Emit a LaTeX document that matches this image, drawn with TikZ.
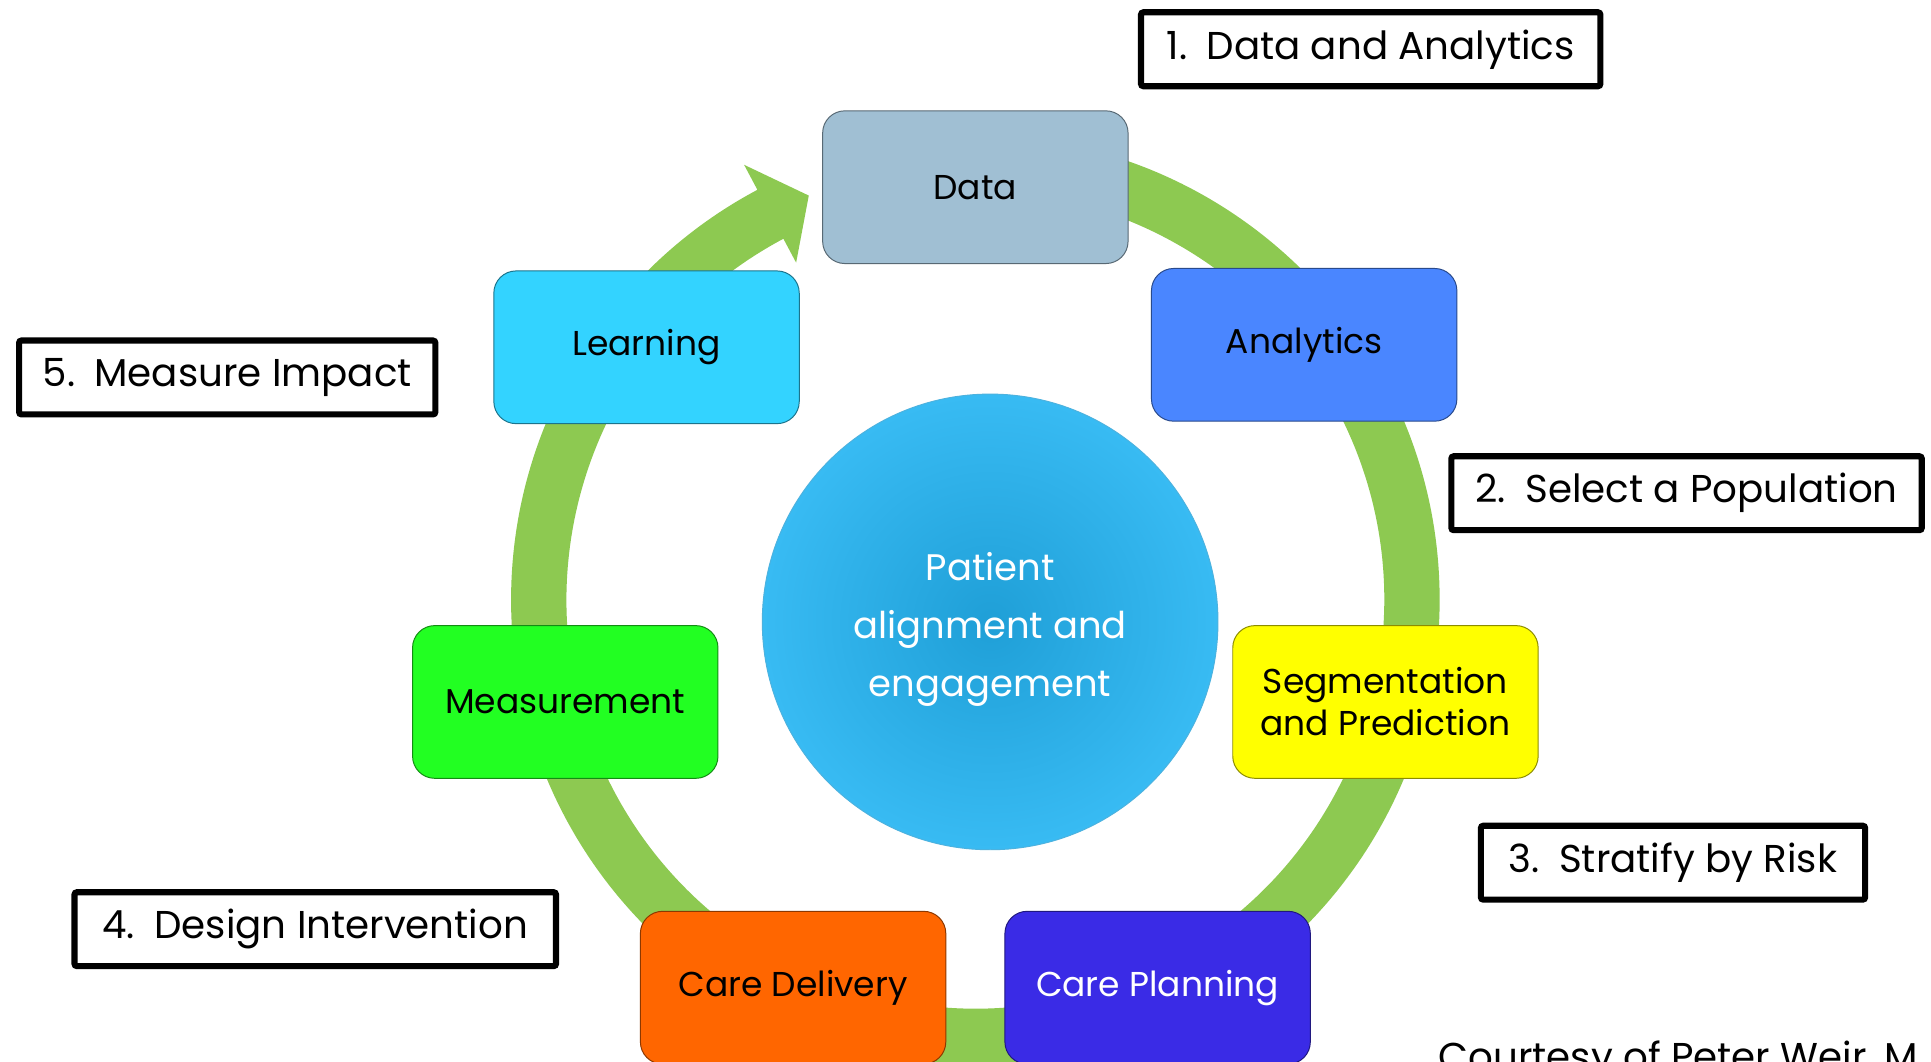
\documentclass[tikz,border=0pt]{standalone}
\usepackage{fontspec}
\setmainfont{Poppins}
\usepackage{tikz}
\usetikzlibrary{positioning, shapes, calc}
\definecolor{ringgreen}{HTML}{8DC951}
\definecolor{datagray}{HTML}{A0BFD3}
\definecolor{analyticsblue}{HTML}{4A86FF}
\definecolor{segyellow}{HTML}{FFFF00}
\definecolor{planviolet}{HTML}{3A2BE6}
\definecolor{deliveryorange}{HTML}{FF6600}
\definecolor{measuregreen}{HTML}{22FF22}
\definecolor{learncyan}{HTML}{33D3FF}
\definecolor{coreinner}{HTML}{1F9FD7}
\definecolor{coreouter}{HTML}{38BBF3}

\tikzset{
	stagebox/.style={fill=#1, draw=#1!55!black, line width=0.8pt, rounded corners=18pt,
		minimum width=248pt, minimum height=124pt, align=center, inner sep=0pt,
		font=\fontsize{28}{34}\selectfont},
	phaselabel/.style={draw=black, line width=5pt, fill=white, rounded corners=2pt,
		minimum height=60pt, inner sep=0pt, font=\fontsize{31.5}{36}\selectfont}
}
\newcommand{\phasetext}[2]{\raisebox{-4pt}{#1.\hspace{0.5em}#2}}

\begin{document}
\begin{tikzpicture}[x=1pt, y=1pt]
				\useasboundingbox[fill=white] (0,0) rectangle (1568,-862);
				% green cycle ring with arrow head at the data box
				\pgfmathsetmacro{\ringin}{332}
				\pgfmathsetmacro{\ringout}{377}
				\coordinate (hub) at (792,-487);
				\fill[ringgreen] ($(hub)+(90:\ringout)$) arc[start angle=90, end angle=-242, radius=\ringout]
					-- ($(hub)+(-242:400)$) -- ($(hub)+(-247.6:355)$) -- ($(hub)+(-242:310)$)
					-- ($(hub)+(-242:\ringin)$) arc[start angle=-242, end angle=90, radius=\ringin] -- cycle;
				
				% stages round the ring
				\node[stagebox=datagray] (data) at (792,-152) {Data};
				\node[stagebox=analyticsblue] (analytics) at (1059,-280) {Analytics};
				\node[stagebox=segyellow] (segment) at (1125,-570) {Segmentation\\and Prediction};
				\node[stagebox=planviolet, text=white] (planning) at (940,-802) {Care Planning};
				\node[stagebox=deliveryorange] (delivery) at (644,-802) {Care Delivery};
				\node[stagebox=measuregreen] (measure) at (459,-570) {Measurement};
				\node[stagebox=learncyan] (learning) at (525,-282) {Learning};
				
				% centre
				\node[circle, minimum size=370pt, inner sep=0pt, draw=coreinner!80!white, line width=0.8pt,
					shading=radial, inner color=coreinner, outer color=coreouter] (core) at (804,-505) {};
				\node[text=white, align=center, font=\fontsize{30}{47}\selectfont] (coretext) at ([yshift=-6pt]core.center)
					{Patient\\alignment and\\engagement};
				
				% numbered phases
				\node[phaselabel, minimum width=373pt] (phase1) at (1113,-40) {\phasetext{1}{Data and Analytics}};
				\node[phaselabel, minimum width=382pt] (phase2) at (1369.5,-400.5) {\phasetext{2}{Select a Population}};
				\node[phaselabel, minimum width=312pt] (phase3) at (1358.5,-700.5) {\phasetext{3}{Stratify by Risk}};
				\node[phaselabel, minimum width=391pt] (phase4) at (256,-754.5) {\phasetext{4}{Design Intervention}};
				\node[phaselabel, minimum width=338pt] (phase5) at (184.5,-306.5) {\phasetext{5}{Measure Impact}};
				
				\node[anchor=base west, inner sep=0pt, font=\fontsize{31.5}{36}\selectfont] (credit) at (1168,-869) {Courtesy of Peter Weir, M};
\end{tikzpicture}
\end{document}
